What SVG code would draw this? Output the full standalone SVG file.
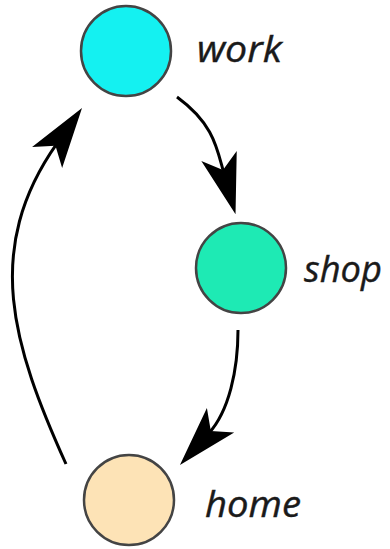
<svg xmlns="http://www.w3.org/2000/svg" width="390" height="549" viewBox="0 0 390 549">
<style>
.node{stroke:#444;stroke-width:2.5}
.lbl{font-family:"Open Sans","DejaVu Sans",sans-serif;font-style:italic;font-size:37px;fill:#1a1a1a;stroke:#1a1a1a;stroke-width:0.4}
.edge{fill:none;stroke:#000;stroke-width:3}
</style>
<defs>
<marker id="arr" markerUnits="userSpaceOnUse" viewBox="-16 -20 64 40" markerWidth="64" markerHeight="40" refX="3" refY="0" orient="auto" overflow="visible">
<path d="M46,0 L-14.5,-18.4 L0,0 L-14.5,18.4 Z" fill="#000"/>
</marker>
</defs>
<rect width="390" height="549" fill="#fff"/>
<g id="connectors">
<path class="edge" d="M177,97 C214,124 217,148.9 223.8,172.9" marker-end="url(#arr)"/>
<path class="edge" d="M238,330 C238,370 228.9,411 208.8,433.2" marker-end="url(#arr)"/>
<path class="edge" d="M66,464 C12.7,345.7 -17.8,249.4 57.2,143.2" marker-end="url(#arr)"/>
</g>
<g id="work">
<circle class="node" cx="126" cy="51" r="45" fill="#14F1F1"/>
<text class="lbl" x="197" y="62" textLength="85" lengthAdjust="spacingAndGlyphs">work</text>
</g>
<g id="shop">
<circle class="node" cx="241" cy="268" r="45" fill="#1EEAB4"/>
<text class="lbl" x="304" y="282" textLength="78" lengthAdjust="spacingAndGlyphs">shop</text>
</g>
<g id="home">
<circle class="node" cx="129" cy="500" r="45" fill="#FDE3B6"/>
<text class="lbl" x="205" y="517" textLength="96" lengthAdjust="spacingAndGlyphs">home</text>
</g>
</svg>
